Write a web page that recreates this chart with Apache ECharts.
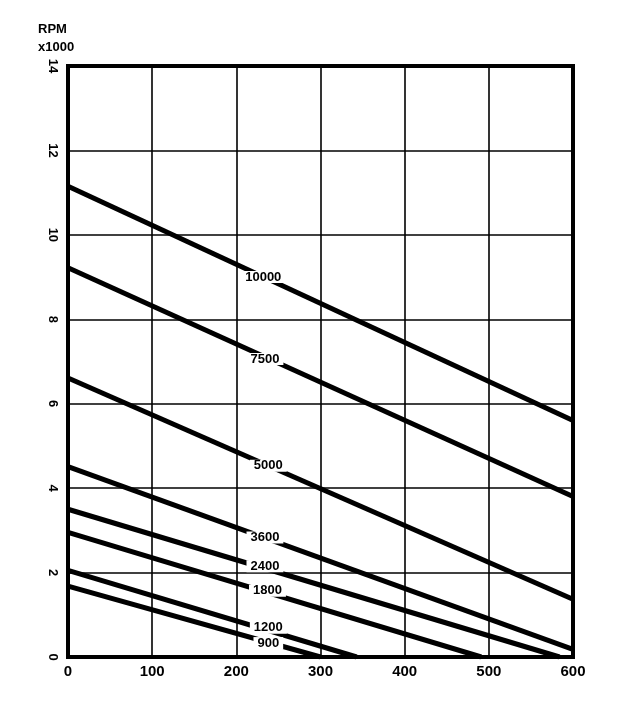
<!DOCTYPE html>
<html>
<head>
<meta charset="utf-8">
<script src="https://cdn.jsdelivr.net/npm/echarts@6/dist/echarts.min.js"></script>
<style>html,body{margin:0;padding:0;background:#fff;}#c{width:640px;height:719px;}</style>
</head>
<body>
<div id="c"></div>
<script>
// Curve names (RPM load curves)
const lineNames = ['10000', '7500', '5000', '3600', '2400', '1800', '1200', '900'];
// Start point of each curve (x = 0)
const startX = [0, 0, 0, 0, 0, 0, 0, 0];
const startY = [11.15, 9.22, 6.61, 4.51, 3.50, 2.95, 2.05, 1.68];
// End point of each curve
const endX = [600, 600, 600, 600, 584, 491, 343, 300];
const endY = [5.60, 3.80, 1.37, 0.18, 0, 0, 0, 0];
// Label positions
const labelX = [232, 234, 238, 234, 234, 237, 238, 238];
const labelY = [9.00, 7.06, 4.53, 2.83, 2.15, 1.57, 0.69, 0.33];
// Axis ticks
const xTicks = [0, 100, 200, 300, 400, 500, 600];
const yTicks = [0, 2, 4, 6, 8, 10, 12, 14];

const FONT = 'Liberation Sans';
const series = lineNames.map((n, i) => ({
  type: 'line',
  name: n,
  symbol: 'none',
  silent: true,
  z: 3,
  lineStyle: { color: '#000', width: 5, cap: 'butt' },
  data: [[startX[i], startY[i]], [endX[i], endY[i]]]
}));
series.push({
  type: 'scatter',
  name: 'labels',
  z: 6,
  symbolSize: 1,
  silent: true,
  itemStyle: { color: '#fff', opacity: 1 },
  emphasis: { disabled: true },
  label: {
    show: true,
    position: 'inside',
    formatter: p => p.value[2],
    fontFamily: FONT,
    fontWeight: 'bold',
    fontSize: 13,
    color: '#000',
    opacity: 1,
    backgroundColor: '#fff',
    padding: [0, 4],
    lineHeight: 12
  },
  data: lineNames.map((n, i) => [labelX[i], labelY[i], n])
});

const chart = echarts.init(document.getElementById('c'));
chart.setOption({
  animation: false,
  backgroundColor: '#fff',
  title: {
    text: 'RPM\nx1000',
    left: 33,
    top: 15,
    textStyle: { fontFamily: FONT, fontWeight: 'bold', fontSize: 13, lineHeight: 18, color: '#000' }
  },
  grid: { left: 68, right: 67, top: 66, bottom: 62, show: true, borderColor: '#000', borderWidth: 4, backgroundColor: 'transparent' },
  xAxis: {
    type: 'value',
    min: xTicks[0],
    max: xTicks[xTicks.length - 1],
    interval: xTicks[1] - xTicks[0],
    axisLine: { show: true, lineStyle: { color: '#000', width: 4 } },
    axisTick: { show: false },
    splitLine: { show: true, lineStyle: { color: '#000', width: 1.6 } },
    axisLabel: { color: '#000', fontFamily: FONT, fontWeight: 'bold', fontSize: 15, margin: 7 }
  },
  yAxis: {
    type: 'value',
    min: yTicks[0],
    max: yTicks[yTicks.length - 1],
    interval: yTicks[1] - yTicks[0],
    axisLine: { show: true, lineStyle: { color: '#000', width: 4 } },
    axisTick: { show: false },
    splitLine: { show: true, lineStyle: { color: '#000', width: 1.6 } },
    axisLabel: { color: '#000', fontFamily: FONT, fontWeight: 'bold', fontSize: 13, rotate: -90, margin: 9 }
  },
  series: series
});
</script>
</body>
</html>
